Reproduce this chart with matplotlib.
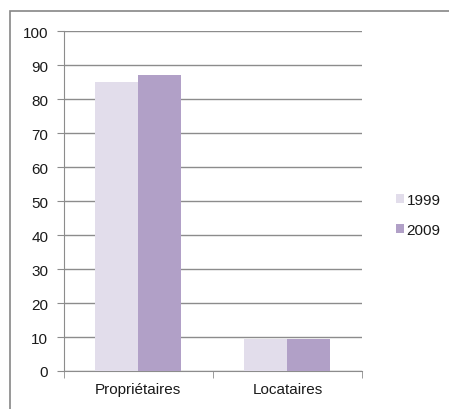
import matplotlib
matplotlib.use("Agg")
import matplotlib.pyplot as plt
from matplotlib.patches import Rectangle
import numpy as np

categories = ["Propriétaires", "Locataires"]
series_names = ["1999", "2009"]
values_1999 = [85, 9.5]
values_2009 = [87, 9.5]
colors = ["#E2DDEB", "#B1A0C7"]

plt.rcParams['font.family'] = ['Liberation Sans', 'DejaVu Sans']

W, H = 449, 410
fig = plt.figure(figsize=(W/100, H/100), dpi=100)

# outer frame (cut at right and bottom)
fig.patches.append(Rectangle((10/W, -0.05), 1.2, (H-12)/H + 0.05, transform=fig.transFigure,
                             fill=False, edgecolor="#868686", linewidth=1.2))

ax_left, ax_right = 63.5, 362
ax_top, ax_bottom = 32, 372
ax = fig.add_axes([ax_left/W, 1 - ax_bottom/H, (ax_right-ax_left)/W, (ax_bottom-ax_top)/H])

x = np.arange(len(categories))
bw = 0.288
ax.bar(x - bw/2, values_1999, bw, color=colors[0], label=series_names[0], zorder=3)
ax.bar(x + bw/2, values_2009, bw, color=colors[1], label=series_names[1], zorder=3)

ax.set_xlim(-0.5, 1.5)
ax.set_ylim(0, 100)
ax.set_yticks(range(0, 101, 10))
ax.yaxis.grid(True, color="#8C8C8C", linewidth=1.0, zorder=0)
ax.set_axisbelow(True)
for s in ["top", "right"]:
    ax.spines[s].set_visible(False)
ax.spines["left"].set_color("#8C8C8C")
ax.spines["bottom"].set_color("#8C8C8C")
ax.tick_params(axis="y", length=5, color="#8C8C8C", labelsize=11, pad=6, labelcolor="#1a1a1a")
ax.tick_params(axis="x", length=0, labelsize=11, pad=8, labelcolor="#1a1a1a")
ax.set_xticks(x)
ax.set_xticklabels(categories)
# category boundary ticks
ax.set_xticks([-0.5, 0.5, 1.5], minor=True)
ax.tick_params(axis="x", which="minor", length=5, color="#8C8C8C")

leg = fig.legend(loc="upper left", bbox_to_anchor=(396/W, 1 - 194/H), frameon=False,
                 fontsize=11, handlelength=0.55, handleheight=0.55, handletextpad=0.15,
                 labelspacing=1.05, borderpad=0, borderaxespad=0)
for t in leg.get_texts():
    t.set_color("#1a1a1a")

fig.savefig("out.png", dpi=100)
